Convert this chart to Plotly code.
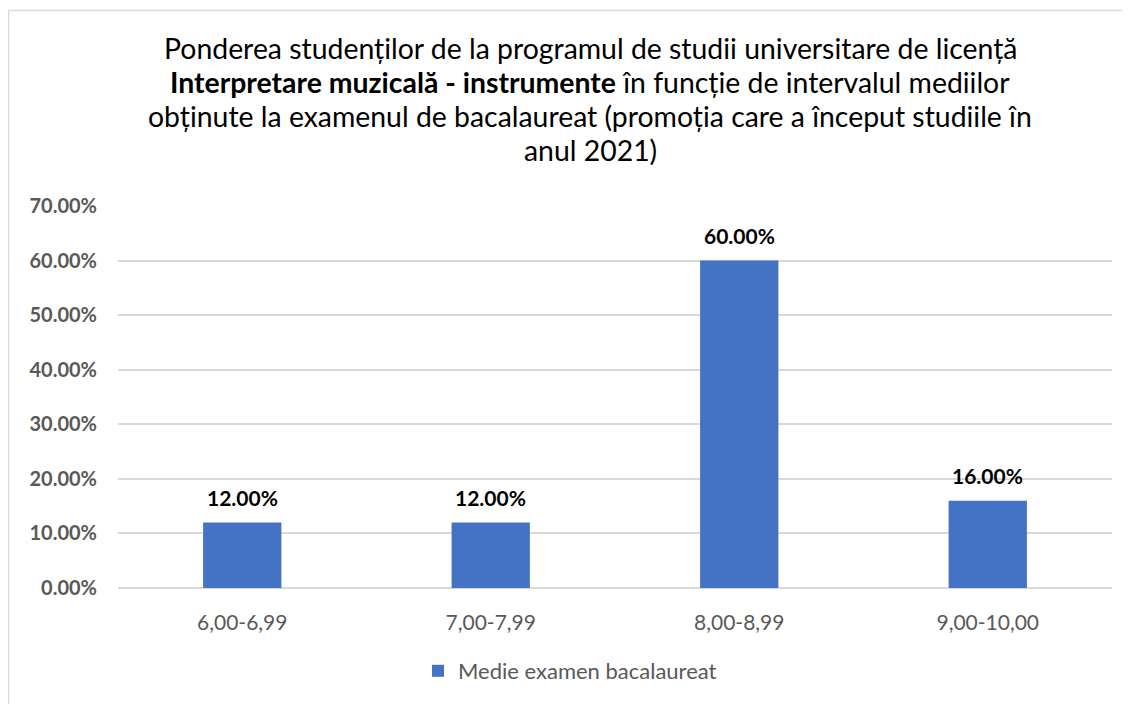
import plotly.graph_objects as go

categories = ["6,00-6,99", "7,00-7,99", "8,00-8,99", "9,00-10,00"]
values = [0.12, 0.12, 0.60, 0.16]
series_name = "Medie examen bacalaureat"
title_lines = [
    "Ponderea studenților de la programul de studii universitare de licență",
    "<b>Interpretare muzicală - instrumente</b> în funcție de intervalul mediilor",
    "obținute la examenul de bacalaureat (promoția care a început studiile în",
    "anul 2021)",
]
y_ticks = [0, 0.1, 0.2, 0.3, 0.4, 0.5, 0.6, 0.7]

FONT = "Lato"
OFF = 8  # page body margin
W, H = 1130 - OFF, 704 - OFF
L, R, T, B = 118 - OFF, 18, 206 - OFF, 116
pw, ph = W - L - R, H - T - B

def px_x(x):
    return (x - OFF - L) / pw

def px_y(y):
    return (H - B - (y - OFF)) / ph

fig = go.Figure()
fig.add_trace(go.Bar(
    x=categories, y=values, name=series_name,
    marker=dict(color="#4472C4", line=dict(width=0)),
    width=0.315,
))

for c, v in zip(categories, values):
    fig.add_annotation(
        x=c, y=v, text=f"<b>{v*100:.2f}%</b>", showarrow=False,
        yanchor="bottom", yshift=11,
        font=dict(family=FONT, size=21, color="#000000"),
    )

title_y = [48, 82, 116, 150]
for line, yy in zip(title_lines, title_y):
    fig.add_annotation(
        xref="paper", yref="paper", x=px_x(590), y=px_y(yy),
        text=line, showarrow=False, xanchor="center", yanchor="middle",
        font=dict(family=FONT, size=28.4, color="#000000"),
    )

# chart frame (left and top border)
fig.add_shape(type="line", xref="paper", yref="paper",
              x0=px_x(8.5), x1=px_x(8.5), y0=px_y(10.5), y1=px_y(720),
              line=dict(color="#D9D9D9", width=1.5))
fig.add_shape(type="line", xref="paper", yref="paper",
              x0=px_x(8.5), x1=px_x(1140), y0=px_y(10.5), y1=px_y(10.5),
              line=dict(color="#D9D9D9", width=1.5))

fig.update_layout(
    width=W, height=H,
    margin=dict(l=L, r=R, t=T, b=B),
    paper_bgcolor="white", plot_bgcolor="white",
    font=dict(family=FONT, color="#595959"),
    bargap=0.685,
    showlegend=True,
    legend=dict(orientation="h", x=px_x(570), xanchor="center",
                y=px_y(671), yanchor="middle",
                font=dict(family=FONT, size=22, color="#595959"),
                itemwidth=30),
    xaxis=dict(showline=False, ticks="", showgrid=False,
               ticklabelstandoff=20,
               tickfont=dict(family=FONT, size=21, color="#595959")),
    yaxis=dict(range=[0, 0.7], tickvals=y_ticks, tickformat=".2%",
               showgrid=True, gridcolor="#D9D9D9", gridwidth=1.5,
               zeroline=True, zerolinecolor="#D9D9D9", zerolinewidth=1.5,
               ticks="", ticklabelstandoff=20,
               tickfont=dict(family=FONT, size=20, color="#595959", weight="bold")),
)

fig.write_html("out.html")
